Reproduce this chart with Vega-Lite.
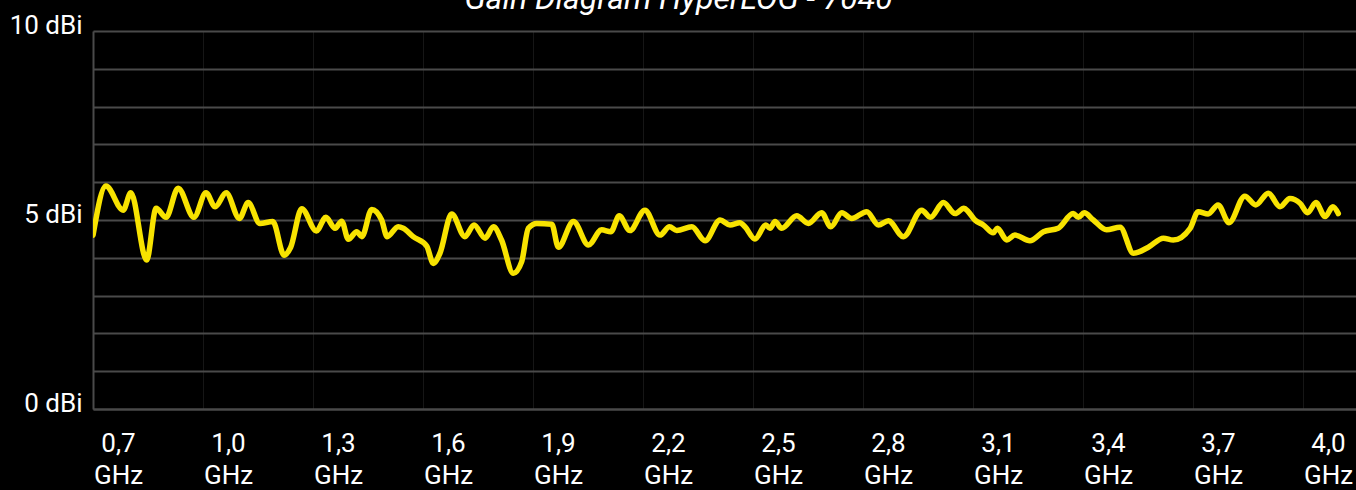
{
  "$schema": "https://vega.github.io/schema/vega-lite/v6.json",
  "width": 1263,
  "height": 378,
  "autosize": {"type": "none"},
  "padding": {"left": 93, "top": 31, "right": 0, "bottom": 81},
  "background": "#000000",
  "title": {
    "text": "Gain Diagram HyperLOG - 7040",
    "font": "Roboto",
    "fontSize": 32,
    "fontStyle": "italic",
    "fontWeight": "normal",
    "color": "#ffffff",
    "anchor": "middle",
    "frame": "group",
    "dx": -46,
    "dy": 32,
    "baseline": "alphabetic",
    "offset": 3
  },
  "config": {
    "view": {"stroke": null},
    "font": "Roboto"
  },
  "data": {
    "values": [
      {"f": 0.632, "g": 4.6}, {"f": 0.667, "g": 5.9}, {"f": 0.714, "g": 5.26}, {"f": 0.735, "g": 5.72},
      {"f": 0.778, "g": 3.94}, {"f": 0.804, "g": 5.31}, {"f": 0.831, "g": 5.07}, {"f": 0.864, "g": 5.84},
      {"f": 0.907, "g": 5.07}, {"f": 0.94, "g": 5.72}, {"f": 0.965, "g": 5.35}, {"f": 0.995, "g": 5.72},
      {"f": 1.031, "g": 5.04}, {"f": 1.055, "g": 5.46}, {"f": 1.087, "g": 4.91}, {"f": 1.122, "g": 4.96},
      {"f": 1.153, "g": 4.07}, {"f": 1.171, "g": 4.28}, {"f": 1.201, "g": 5.3}, {"f": 1.241, "g": 4.71},
      {"f": 1.267, "g": 5.07}, {"f": 1.292, "g": 4.78}, {"f": 1.31, "g": 4.97}, {"f": 1.328, "g": 4.49},
      {"f": 1.351, "g": 4.69}, {"f": 1.365, "g": 4.56}, {"f": 1.392, "g": 5.28}, {"f": 1.419, "g": 5.0},
      {"f": 1.434, "g": 4.56}, {"f": 1.464, "g": 4.82}, {"f": 1.478, "g": 4.78}, {"f": 1.505, "g": 4.56},
      {"f": 1.542, "g": 4.31}, {"f": 1.56, "g": 3.85}, {"f": 1.578, "g": 4.12}, {"f": 1.61, "g": 5.16},
      {"f": 1.646, "g": 4.56}, {"f": 1.671, "g": 4.87}, {"f": 1.701, "g": 4.52}, {"f": 1.724, "g": 4.82},
      {"f": 1.746, "g": 4.47}, {"f": 1.778, "g": 3.59}, {"f": 1.801, "g": 3.9}, {"f": 1.819, "g": 4.78},
      {"f": 1.842, "g": 4.91}, {"f": 1.883, "g": 4.89}, {"f": 1.901, "g": 4.28}, {"f": 1.942, "g": 4.96},
      {"f": 1.983, "g": 4.34}, {"f": 2.019, "g": 4.74}, {"f": 2.044, "g": 4.69}, {"f": 2.067, "g": 5.11},
      {"f": 2.096, "g": 4.72}, {"f": 2.137, "g": 5.26}, {"f": 2.178, "g": 4.6}, {"f": 2.204, "g": 4.82},
      {"f": 2.224, "g": 4.72}, {"f": 2.265, "g": 4.82}, {"f": 2.301, "g": 4.45}, {"f": 2.342, "g": 5.0},
      {"f": 2.369, "g": 4.87}, {"f": 2.396, "g": 4.93}, {"f": 2.41, "g": 4.82}, {"f": 2.437, "g": 4.5},
      {"f": 2.467, "g": 4.87}, {"f": 2.478, "g": 4.78}, {"f": 2.492, "g": 4.96}, {"f": 2.51, "g": 4.78},
      {"f": 2.551, "g": 5.11}, {"f": 2.583, "g": 4.91}, {"f": 2.619, "g": 5.19}, {"f": 2.644, "g": 4.82},
      {"f": 2.674, "g": 5.19}, {"f": 2.701, "g": 5.04}, {"f": 2.742, "g": 5.22}, {"f": 2.774, "g": 4.87},
      {"f": 2.801, "g": 4.98}, {"f": 2.842, "g": 4.56}, {"f": 2.892, "g": 5.26}, {"f": 2.916, "g": 5.07},
      {"f": 2.951, "g": 5.46}, {"f": 2.983, "g": 5.17}, {"f": 3.007, "g": 5.31}, {"f": 3.019, "g": 5.22},
      {"f": 3.037, "g": 5.0}, {"f": 3.06, "g": 4.87}, {"f": 3.087, "g": 4.66}, {"f": 3.098, "g": 4.78},
      {"f": 3.124, "g": 4.47}, {"f": 3.146, "g": 4.6}, {"f": 3.187, "g": 4.45}, {"f": 3.224, "g": 4.69},
      {"f": 3.264, "g": 4.78}, {"f": 3.305, "g": 5.17}, {"f": 3.319, "g": 5.07}, {"f": 3.335, "g": 5.19},
      {"f": 3.36, "g": 5.0}, {"f": 3.396, "g": 4.74}, {"f": 3.433, "g": 4.81}, {"f": 3.469, "g": 4.12},
      {"f": 3.51, "g": 4.28}, {"f": 3.551, "g": 4.52}, {"f": 3.578, "g": 4.47}, {"f": 3.624, "g": 4.78},
      {"f": 3.646, "g": 5.22}, {"f": 3.673, "g": 5.16}, {"f": 3.7, "g": 5.4}, {"f": 3.73, "g": 4.93},
      {"f": 3.773, "g": 5.63}, {"f": 3.803, "g": 5.4}, {"f": 3.837, "g": 5.71}, {"f": 3.869, "g": 5.35},
      {"f": 3.896, "g": 5.57}, {"f": 3.924, "g": 5.44}, {"f": 3.944, "g": 5.19}, {"f": 3.967, "g": 5.46},
      {"f": 3.992, "g": 5.09}, {"f": 4.013, "g": 5.35}, {"f": 4.028, "g": 5.17}
    ]
  },
  "mark": {
    "type": "line",
    "color": "#f8e300",
    "strokeWidth": 5.5,
    "interpolate": "monotone",
    "strokeCap": "round",
    "strokeJoin": "round",
    "clip": true
  },
  "encoding": {
    "x": {
      "field": "f",
      "type": "quantitative",
      "scale": {"domain": [0.6318, 4.0763], "nice": false, "zero": false},
      "axis": {
        "title": null,
        "values": [0.6318, 0.9318, 1.2318, 1.5318, 1.8318, 2.1318, 2.4318, 2.7318, 3.0318, 3.3318, 3.6318, 3.9318],
        "labelExpr": "[replace(format(datum.value + 0.0682, '.1f'), '.', ','), 'GHz']",
        "labelOffset": 25,
        "labelAlign": "center",
        "labelBaseline": "top",
        "labelPadding": 21,
        "labelFont": "Roboto",
        "labelFontSize": 26,
        "labelLineHeight": 32,
        "labelColor": "#ffffff",
        "labelFlush": false,
        "labelOverlap": false,
        "ticks": false,
        "grid": true,
        "gridColor": "#161616",
        "gridWidth": 1,
        "domain": true,
        "domainColor": "#4a4a4a",
        "domainWidth": 2
      }
    },
    "y": {
      "field": "g",
      "type": "quantitative",
      "scale": {"domain": [0, 10], "nice": false},
      "axis": {
        "title": null,
        "values": [0, 1, 2, 3, 4, 5, 6, 7, 8, 9, 10],
        "labelExpr": "datum.value % 5 == 0 ? datum.value + ' dBi' : ''",
        "labelOffset": -6,
        "labelPadding": 11,
        "labelFont": "Roboto",
        "labelFontSize": 26,
        "labelColor": "#ffffff",
        "labelFlush": false,
        "labelOverlap": false,
        "ticks": false,
        "grid": true,
        "gridColor": "#4a4a4a",
        "gridWidth": 2,
        "domain": true,
        "domainColor": "#4a4a4a",
        "domainWidth": 2
      }
    }
  }
}
